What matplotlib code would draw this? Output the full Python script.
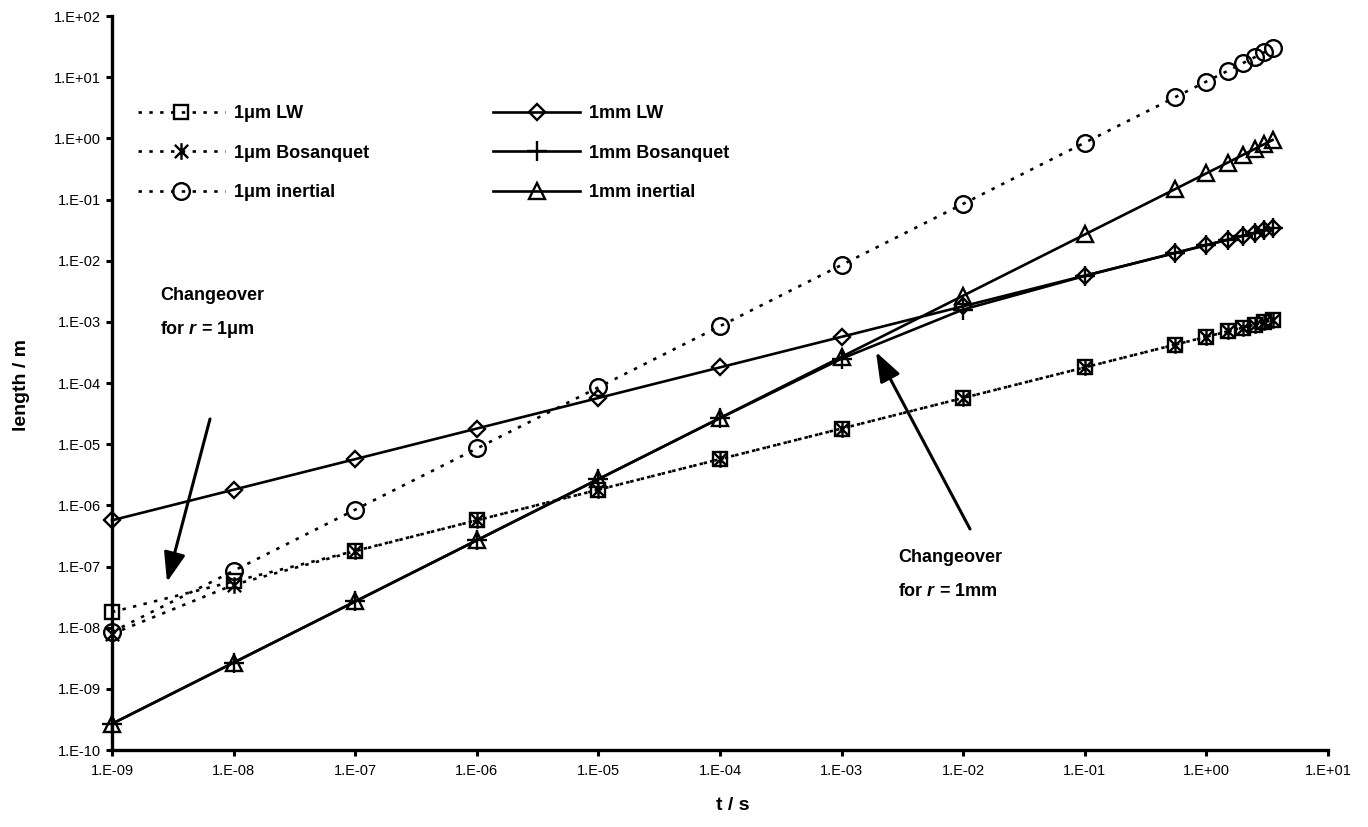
import matplotlib
matplotlib.use('Agg')
import matplotlib.pyplot as plt
from matplotlib.path import Path
from matplotlib.ticker import FixedLocator, FuncFormatter, NullLocator
import math

plt.rcParams['font.family'] = ['Liberation Sans', 'DejaVu Sans']
plt.rcParams['mathtext.fontset'] = 'custom'
plt.rcParams['mathtext.it'] = 'Liberation Sans:italic:bold'
plt.rcParams['mathtext.rm'] = 'Liberation Sans:bold'

# ---------------- data ----------------
t_s = [1e-9, 1e-8, 1e-7, 1e-6, 1e-5, 1e-4, 1e-3, 1e-2, 1e-1,
       0.55, 1.0, 1.5, 2.0, 2.5, 3.0, 3.5]

um_lw = [1.80e-8, 5.70e-8, 1.80e-7, 5.70e-7, 1.80e-6, 5.70e-6, 1.80e-5, 5.70e-5, 1.80e-4,
         4.23e-4, 5.70e-4, 6.98e-4, 8.06e-4, 9.01e-4, 9.87e-4, 1.066e-3]
um_bos = [7.90e-9, 5.02e-8, 1.78e-7, 5.69e-7, 1.80e-6, 5.69e-6, 1.80e-5, 5.69e-5, 1.80e-4,
          4.22e-4, 5.69e-4, 6.97e-4, 8.05e-4, 9.00e-4, 9.86e-4, 1.065e-3]
um_inert = [8.5e-9, 8.5e-8, 8.5e-7, 8.5e-6, 8.5e-5, 8.5e-4, 8.5e-3, 8.5e-2, 0.85,
            4.67, 8.49, 12.7, 17.0, 21.2, 25.5, 29.7]
mm_lw = [5.69e-7, 1.80e-6, 5.69e-6, 1.80e-5, 5.69e-5, 1.80e-4, 5.69e-4, 1.80e-3, 5.69e-3,
         1.335e-2, 1.80e-2, 2.20e-2, 2.55e-2, 2.85e-2, 3.12e-2, 3.37e-2]
mm_bos = [2.68e-10, 2.68e-9, 2.68e-8, 2.68e-7, 2.68e-6, 2.66e-5, 2.50e-4, 1.59e-3, 5.63e-3,
          1.332e-2, 1.798e-2, 2.203e-2, 2.544e-2, 2.845e-2, 3.117e-2, 3.366e-2]
mm_inert = [2.68e-10, 2.68e-9, 2.68e-8, 2.68e-7, 2.68e-6, 2.68e-5, 2.68e-4, 2.68e-3, 2.68e-2,
            0.147, 0.268, 0.402, 0.537, 0.671, 0.805, 0.939]

series_labels = ['1μm LW', '1μm Bosanquet', '1μm inertial',
                 '1mm LW', '1mm Bosanquet', '1mm inertial']

x_exponents = list(range(-9, 2))
y_exponents = list(range(-10, 3))

# ---------------- figure ----------------
W, H = 1368, 827
fig = plt.figure(figsize=(W / 100, H / 100), dpi=100)
fig.patch.set_facecolor('white')
L, R, T, B = 112, 1328, 16, 750
ax = fig.add_axes([L / W, 1 - B / H, (R - L) / W, (B - T) / H])
ax.set_xscale('log')
ax.set_yscale('log')
ax.set_xlim(1e-9, 1e1)
ax.set_ylim(1e-10, 1e2)

# asterisk marker (x plus vertical bar), like the spreadsheet "star"
star = Path([(-1, -1), (1, 1), (-1, 1), (1, -1), (0, -1.25), (0, 1.25)],
            [Path.MOVETO, Path.LINETO, Path.MOVETO, Path.LINETO, Path.MOVETO, Path.LINETO])

dot = (0, (1.3, 2.8))
mew = 1.7
lwd = 1.9
common = dict(color='black', mec='black', mfc='none', mew=mew, clip_on=False)

h1, = ax.plot(t_s, um_lw, ls=dot, lw=lwd, marker='s', ms=10, label=series_labels[0], **common)
h2, = ax.plot(t_s, um_bos, ls=dot, lw=lwd, marker=star, ms=12, label=series_labels[1], **common)
h3, = ax.plot(t_s, um_inert, ls=dot, lw=lwd, marker='o', ms=12, label=series_labels[2], **common)
h4, = ax.plot(t_s, mm_lw, ls='-', lw=lwd, marker='D', ms=8.5, label=series_labels[3], **common)
h5, = ax.plot(t_s, mm_bos, ls='-', lw=lwd, marker='+', ms=14, label=series_labels[4], **common)
h6, = ax.plot(t_s, mm_inert, ls='-', lw=lwd, marker='^', ms=12, label=series_labels[5], **common)

# axes styling
for side in ('top', 'right'):
    ax.spines[side].set_visible(False)
for side in ('left', 'bottom'):
    ax.spines[side].set_linewidth(2.4)
    ax.spines[side].set_capstyle('projecting')

ax.xaxis.set_major_locator(FixedLocator([10.0 ** e for e in x_exponents]))
ax.yaxis.set_major_locator(FixedLocator([10.0 ** e for e in y_exponents]))
ax.xaxis.set_minor_locator(NullLocator())
ax.yaxis.set_minor_locator(NullLocator())


def fmt(v, pos):
    e = int(round(math.log10(v)))
    return f"1.E{e:+03d}"


ax.xaxis.set_major_formatter(FuncFormatter(fmt))
ax.yaxis.set_major_formatter(FuncFormatter(fmt))
ax.tick_params(axis='both', which='major', direction='out', length=4, width=2.2,
               labelsize=10.5, color='black')
ax.tick_params(axis='x', pad=6)
ax.tick_params(axis='y', pad=4)

# axis titles
fig.text(22 / W, 1 - 385 / H, 'length / m', rotation=90, ha='center', va='center',
         fontsize=14, fontweight='bold')
fig.text(733 / W, 1 - 805 / H, 't / s', ha='center', va='center',
         fontsize=14, fontweight='bold')

# legend
leg = ax.legend(handles=[h1, h2, h3, h4, h5, h6], ncol=2, frameon=False,
                loc='upper left', bbox_to_anchor=(138 / W, 1 - 105 / H),
                bbox_transform=fig.transFigure, borderpad=0, borderaxespad=0,
                handlelength=4.8, handletextpad=0.5, columnspacing=6.9,
                labelspacing=1.25, numpoints=1,
                prop={'weight': 'bold', 'size': 13})

# annotations
arrow_style = dict(arrowstyle='-|>,head_length=0.6,head_width=0.22', lw=2.2,
                   color='black', mutation_scale=30, shrinkA=0, shrinkB=0)
ax.annotate('', xy=(167 / W, 1 - 582 / H), xytext=(210 / W, 1 - 419 / H),
            xycoords='figure fraction', textcoords='figure fraction',
            arrowprops=arrow_style)
ax.annotate('', xy=(876 / W, 1 - 352 / H), xytext=(970 / W, 1 - 529 / H),
            xycoords='figure fraction', textcoords='figure fraction',
            arrowprops=arrow_style)

fig.text(160 / W, 1 - 295 / H, 'Changeover', ha='left', va='center',
         fontsize=13, fontweight='bold')
fig.text(160 / W, 1 - 329 / H, 'for $r$ = 1μm', ha='left', va='center',
         fontsize=13, fontweight='bold')
fig.text(898 / W, 1 - 558 / H, 'Changeover', ha='left', va='center',
         fontsize=13, fontweight='bold')
fig.text(898 / W, 1 - 592 / H, 'for $r$ = 1mm', ha='left', va='center',
         fontsize=13, fontweight='bold')

fig.savefig('out.png', dpi=100, facecolor='white')
